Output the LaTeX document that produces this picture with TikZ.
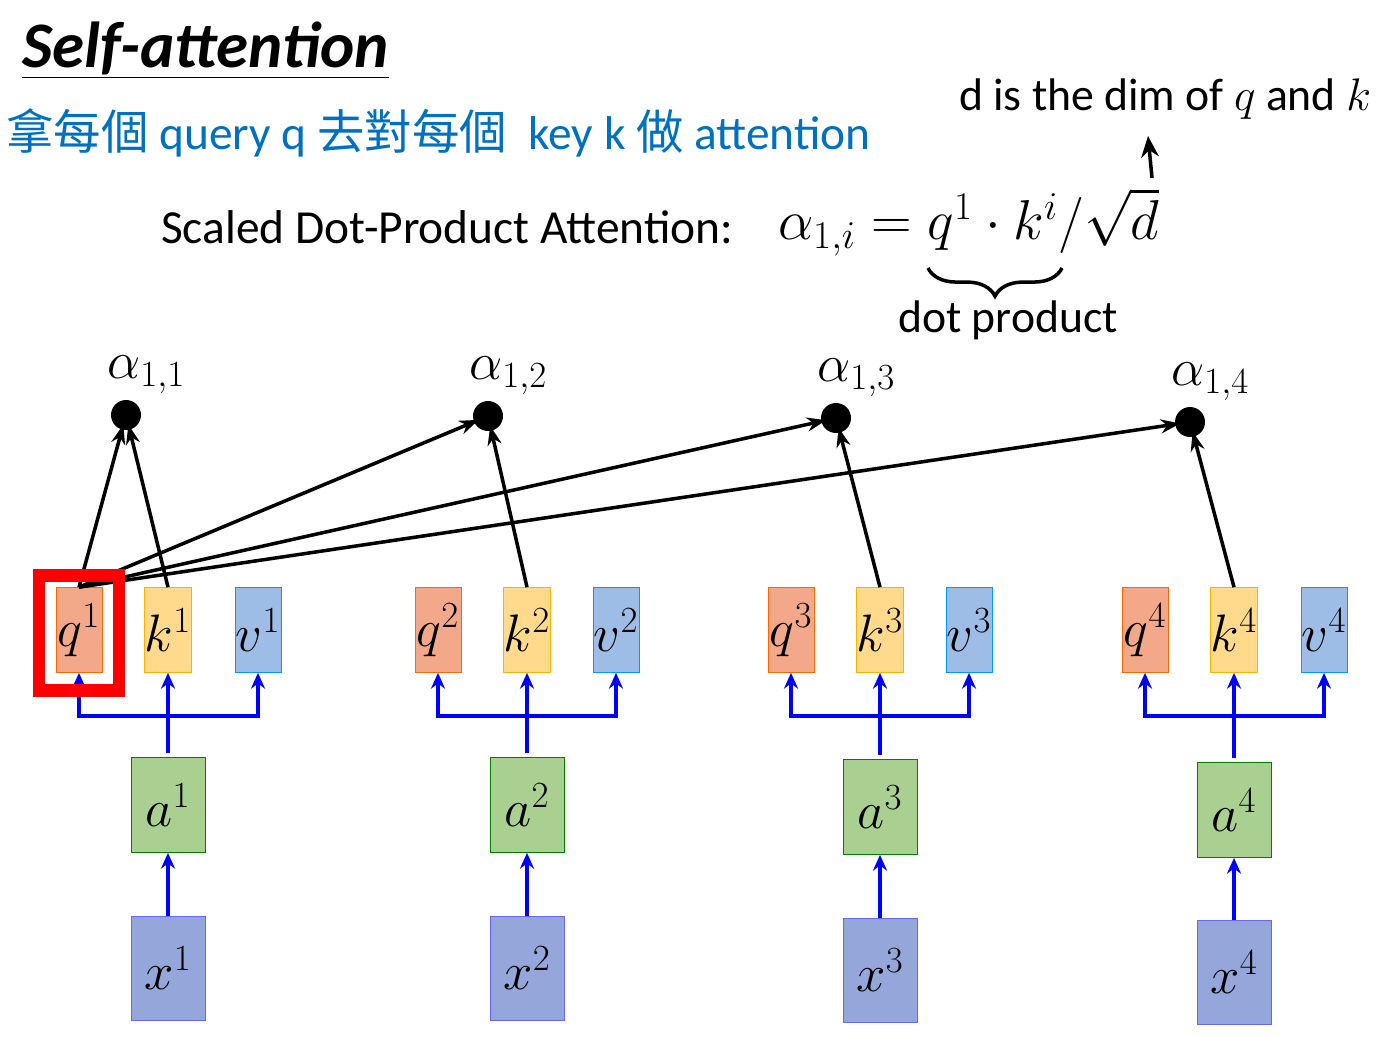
\RequirePackage{fix-cm}
\documentclass[tikz,border=0pt]{standalone}
\usepackage{fontspec}
\setmainfont{Carlito}
\newfontfamily\cjk{Noto Sans CJK TC}
\usetikzlibrary{arrows.meta,decorations.pathreplacing}
\definecolor{qfill}{RGB}{244,168,138}
\definecolor{kfill}{RGB}{255,217,140}
\definecolor{vfill}{RGB}{157,189,230}
\definecolor{afill}{RGB}{170,208,145}
\definecolor{xfill}{RGB}{148,166,218}
\definecolor{blueText}{RGB}{0,112,192}
\tikzset{
  vec/.style={draw,minimum width=0.92cm,minimum height=1.7cm,inner sep=0pt,font=\fontsize{30}{34}\selectfont},
  qbox/.style={vec,fill=qfill,draw=orange!80!red},
  kbox/.style={vec,fill=kfill,draw=orange!60!yellow},
  vbox/.style={vec,fill=vfill,draw=blue!40!cyan},
  abox/.style={vec,minimum width=1.48cm,minimum height=1.9cm,fill=afill,draw=green!50!black},
  xbox/.style={vec,minimum width=1.48cm,minimum height=2.08cm,fill=xfill,draw=blue!60},
  feed/.style={blue,line width=2pt,-{Stealth[length=9pt,width=8pt]}},
  att/.style={line width=2pt,-{Stealth[length=11pt,width=8pt]},shorten >=-3pt},
  dot/.style={circle,fill=black,minimum size=0.6cm,inner sep=0pt},
  alab/.style={font=\fontsize{30}{34}\selectfont}
}
\begin{document}
\begin{tikzpicture}[x=0.02cm,y=-0.02cm]
\useasboundingbox (0,0) rectangle (1398,1036);
% title
\node[anchor=west,font=\fontsize{37}{40}\selectfont\bfseries\itshape] (title) at (16,50) {\underline{Self-attention}};
\node[anchor=west,text=blueText,font=\fontsize{27}{32}\selectfont] (rule) at (0,133)
  {{\cjk 拿每個} query q {\cjk 去對每個}\ \ key k {\cjk 做} attention};
\node[anchor=west,font=\fontsize{27}{32}\selectfont] (sdpa) at (155,227) {Scaled Dot-Product Attention:};
\node[anchor=west,font=\fontsize{32}{38}\selectfont] (eq) at (772,222) {$\alpha_{1,i}=q^1\cdot k^i/\sqrt{d}$};
\node[anchor=west,font=\fontsize{26}{30}\selectfont] (dim) at (953,99) {d is the dim of $q$ and $k$};
\coordinate (dimtip) at (1148,136);
\coordinate (dimend) at (1152,178);
\draw[line width=2pt,-{Stealth[length=12pt,width=10pt]}] (dimend) -- (dimtip);
\coordinate (bl) at (928,268);
\coordinate (br) at (1062,268);
\draw[line width=2pt,decorate,decoration={brace,mirror,amplitude=16pt}] (bl) -- (br);
\node[font=\fontsize{26}{30}\selectfont] (dp) at (1008,320) {dot product};
% vectors
\foreach \i/\xq/\xk/\xv/\ya/\yx/\ydot/\xdot in {1/79/168/258/805/968/415/126, 2/438/527/616/805/968/416/488,
                                   3/791/880/969/807/970/418/836, 4/1145/1234/1324/810/972/422/1190}{
  \node[qbox] (q\i) at (\xq,630) {$q^{\i}$};
  \node[kbox] (k\i) at (\xk,630) {$k^{\i}$};
  \node[vbox] (v\i) at (\xv,630) {$v^{\i}$};
  \node[abox] (a\i) at (\xk,\ya) {$a^{\i}$};
  \node[xbox] (x\i) at (\xk,\yx) {$x^{\i}$};
  \coordinate (j\i) at (\xk,716);
  \draw[feed] (x\i) -- (a\i);
  \draw[blue,line width=2pt] (a\i.north) ++(0,-4) -- (j\i);
  \draw[feed] (j\i) -- (k\i);
  \draw[feed] (j\i) -| (q\i);
  \draw[feed] (j\i) -| (v\i);
  \node[dot] (s\i) at (\xdot,\ydot) {};
  \node[alab,anchor=south west] (l\i) at ([xshift=-14pt,yshift=0pt]s\i.north) {$\alpha_{1,\i}$};
  \draw[att] (k\i.north) -- (s\i);
  \draw[att] (q1.north) -- (s\i);
}
\node[draw=red,line width=7pt,minimum width=1.6cm,minimum height=2.3cm] (hl) at (79,633) {};
\end{tikzpicture}
\end{document}
